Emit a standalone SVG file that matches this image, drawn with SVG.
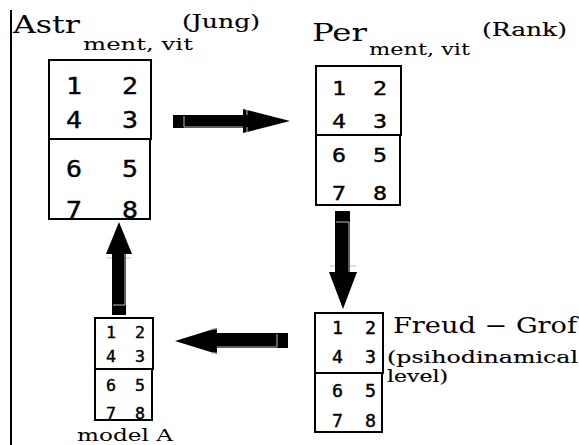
<svg xmlns="http://www.w3.org/2000/svg" width="579" height="445" viewBox="0 0 579 445">
<style>
.bx{fill:none;stroke:#000;stroke-width:2}
.d{fill:#000;stroke:#000;stroke-width:0.4}
.t{fill:#000}
.b{stroke:#000;stroke-width:0.15}
.ar{fill:#000}
.hl{stroke:#bbb;stroke-width:1;fill:none}
</style>
<rect width="579" height="445" fill="#fff"/>
<line x1="11" y1="10" x2="11" y2="445" stroke="#000" stroke-width="2"/>

<g id="labels" font-family="'DejaVu Serif', 'Liberation Serif', serif">
<text class="t" x="13" y="33" font-size="25" textLength="67" lengthAdjust="spacingAndGlyphs">Astr</text>
<text class="t" x="83" y="50" font-size="17" textLength="110" lengthAdjust="spacingAndGlyphs">ment, vit</text>
<text class="t b" x="182" y="28" font-size="19" textLength="78" lengthAdjust="spacingAndGlyphs">(Jung)</text>
<text class="t" x="312" y="41" font-size="25" textLength="55" lengthAdjust="spacingAndGlyphs">Per</text>
<text class="t" x="369" y="55" font-size="16" textLength="101" lengthAdjust="spacingAndGlyphs">ment, vit</text>
<text class="t b" x="482" y="36" font-size="18" textLength="85" lengthAdjust="spacingAndGlyphs">(Rank)</text>
<text class="t" x="393" y="333" font-size="22" textLength="184" lengthAdjust="spacingAndGlyphs">Freud − Grof</text>
<text class="t b" x="387" y="363" font-size="16" textLength="191" lengthAdjust="spacingAndGlyphs">(psihodinamical</text>
<text class="t b" x="387" y="382" font-size="16" textLength="61" lengthAdjust="spacingAndGlyphs">level)</text>
<text class="t" x="77" y="441" font-size="17" textLength="96" lengthAdjust="spacingAndGlyphs">model A</text>
</g>

<g id="node-jung">
<rect class="bx" x="49" y="60" width="102" height="79"/>
<rect class="bx" x="49" y="139" width="101" height="80"/>
<g class="d" font-family="'DejaVu Sans Mono', monospace" font-size="23">
<text x="66" y="94" textLength="16" lengthAdjust="spacingAndGlyphs">1</text><text x="122" y="94" textLength="16" lengthAdjust="spacingAndGlyphs">2</text>
<text x="66" y="128" textLength="16" lengthAdjust="spacingAndGlyphs">4</text><text x="122" y="128" textLength="16" lengthAdjust="spacingAndGlyphs">3</text>
<text x="66" y="177" textLength="16" lengthAdjust="spacingAndGlyphs">6</text><text x="122" y="177" textLength="16" lengthAdjust="spacingAndGlyphs">5</text>
<text x="66" y="218" textLength="16" lengthAdjust="spacingAndGlyphs">7</text><text x="122" y="218" textLength="16" lengthAdjust="spacingAndGlyphs">8</text>
</g>
</g>

<g id="node-rank">
<rect class="bx" x="316" y="66" width="85" height="69"/>
<rect class="bx" x="316" y="135" width="84" height="70"/>
<g class="d" font-family="'DejaVu Sans Mono', monospace" font-size="20">
<text x="332" y="95" textLength="14" lengthAdjust="spacingAndGlyphs">1</text><text x="373" y="95" textLength="14" lengthAdjust="spacingAndGlyphs">2</text>
<text x="332" y="128" textLength="14" lengthAdjust="spacingAndGlyphs">4</text><text x="373" y="128" textLength="14" lengthAdjust="spacingAndGlyphs">3</text>
<text x="332" y="162" textLength="14" lengthAdjust="spacingAndGlyphs">6</text><text x="373" y="162" textLength="14" lengthAdjust="spacingAndGlyphs">5</text>
<text x="332" y="200" textLength="14" lengthAdjust="spacingAndGlyphs">7</text><text x="373" y="200" textLength="14" lengthAdjust="spacingAndGlyphs">8</text>
</g>
</g>

<g id="node-freud">
<rect class="bx" x="315" y="313" width="68" height="60"/>
<rect class="bx" x="315" y="373" width="67" height="59"/>
<g class="d" font-family="'DejaVu Sans Mono', monospace" font-size="17">
<text x="332" y="334" textLength="11" lengthAdjust="spacingAndGlyphs">1</text><text x="365" y="334" textLength="11" lengthAdjust="spacingAndGlyphs">2</text>
<text x="332" y="363" textLength="11" lengthAdjust="spacingAndGlyphs">4</text><text x="365" y="363" textLength="11" lengthAdjust="spacingAndGlyphs">3</text>
<text x="332" y="397" textLength="11" lengthAdjust="spacingAndGlyphs">6</text><text x="365" y="397" textLength="11" lengthAdjust="spacingAndGlyphs">5</text>
<text x="332" y="427" textLength="11" lengthAdjust="spacingAndGlyphs">7</text><text x="365" y="427" textLength="11" lengthAdjust="spacingAndGlyphs">8</text>
</g>
</g>

<g id="node-modelA">
<rect class="bx" x="95" y="318" width="58" height="51"/>
<rect class="bx" x="95" y="369" width="57" height="51"/>
<g class="d" font-family="'DejaVu Sans Mono', monospace" font-size="16">
<text x="106" y="338" textLength="10" lengthAdjust="spacingAndGlyphs">1</text><text x="135" y="338" textLength="10" lengthAdjust="spacingAndGlyphs">2</text>
<text x="106" y="362" textLength="10" lengthAdjust="spacingAndGlyphs">4</text><text x="135" y="362" textLength="10" lengthAdjust="spacingAndGlyphs">3</text>
<text x="106" y="391" textLength="10" lengthAdjust="spacingAndGlyphs">6</text><text x="135" y="391" textLength="10" lengthAdjust="spacingAndGlyphs">5</text>
<text x="106" y="419" textLength="10" lengthAdjust="spacingAndGlyphs">7</text><text x="135" y="419" textLength="10" lengthAdjust="spacingAndGlyphs">8</text>
</g>
</g>

<g id="connectors">
<g id="arrow-right">
<polygon class="ar" points="173,115 243,115 243,109 290,121 243,133 243,128 173,128"/>
<polyline class="hl" points="184,116 184,127 243,127"/>
<polyline class="hl" points="247,110 247,115"/>
<polyline class="hl" points="247,127 247,132"/>
</g>
<g id="arrow-down">
<polygon class="ar" points="335,211 350,211 350,272 357,272 343,309 329,272 335,272"/>
<polyline class="hl" points="336,222 349,222 349,272"/>
<polyline class="hl" points="330,266 335,266"/>
<polyline class="hl" points="350,266 356,266"/>
</g>
<g id="arrow-left">
<polygon class="ar" points="288,333 288,348 217,348 217,354 175,341 217,328 217,333"/>
<polyline class="hl" points="277,334 277,347 217,347"/>
<polyline class="hl" points="211,329 217,329"/>
<polyline class="hl" points="211,353 217,353"/>
</g>
<g id="arrow-up">
<polygon class="ar" points="112,315 112,254 106,254 119,222 132,254 126,254 126,315"/>
<polyline class="hl" points="113,305 125,305 125,254"/>
<polyline class="hl" points="107,258 112,258"/>
<polyline class="hl" points="126,258 131,258"/>
</g>
</g>
</svg>
